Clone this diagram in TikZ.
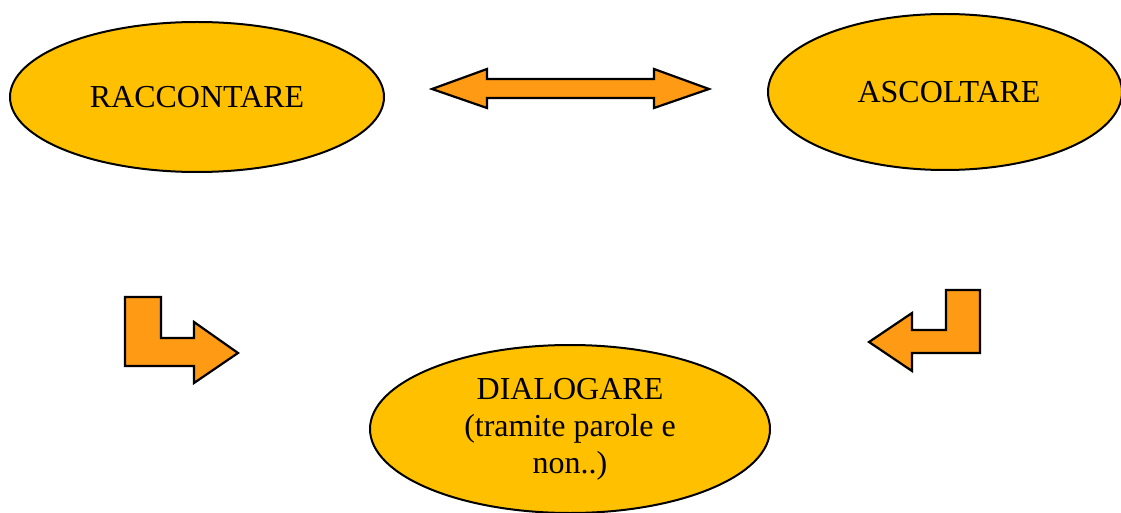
\documentclass[tikz,border=0pt]{standalone}
\usepackage{fontspec}
\setmainfont{Liberation Serif}
\usetikzlibrary{shapes.geometric}
\definecolor{bubble}{HTML}{FFC000}
\definecolor{arrowfill}{HTML}{FF9A14}
\tikzset{
  bubble/.style={ellipse, draw=black, line width=2pt, fill=bubble, inner sep=0pt,
    font=\fontsize{32}{37}\selectfont, align=center},
  blockarrow/.style={draw=black, line width=2.2pt, fill=arrowfill, line join=miter}
}
\begin{document}
\begin{tikzpicture}[x=1pt, y=-1pt]
  \useasboundingbox (0,0) rectangle (1121,513);
  % the three activities
  \node[bubble, minimum width=374pt, minimum height=150pt] (racc) at (197,97) {RACCONTARE};
  \node[bubble, minimum width=354pt, minimum height=156pt] (asc) at (945,92) {\hspace*{8pt}ASCOLTARE};
  \node[bubble, minimum width=400pt, minimum height=168pt] (dial) at (570,429)
    {\raisebox{-3pt}{\begin{tabular}{@{}c@{}}DIALOGARE\\(tramite parole e\\non..)\end{tabular}}};
  % two-way arrow between telling and listening
  \draw[blockarrow] (432,89) -- (487,69) -- (487,79) -- (654,79) -- (654,69) -- (709,89)
    -- (654,108) -- (654,98) -- (487,98) -- (487,108) -- cycle;
  % bent arrow on the left, turning right
  \draw[blockarrow] (125,297) -- (161,297) -- (161,338) -- (194,338) -- (194,322) -- (238,353)
    -- (194,383) -- (194,366) -- (125,366) -- cycle;
  % bent arrow on the right, turning left
  \draw[blockarrow] (980,290) -- (946,290) -- (946,330) -- (912,330) -- (912,313) -- (869,342)
    -- (912,371) -- (912,353) -- (980,353) -- cycle;
\end{tikzpicture}
\end{document}
